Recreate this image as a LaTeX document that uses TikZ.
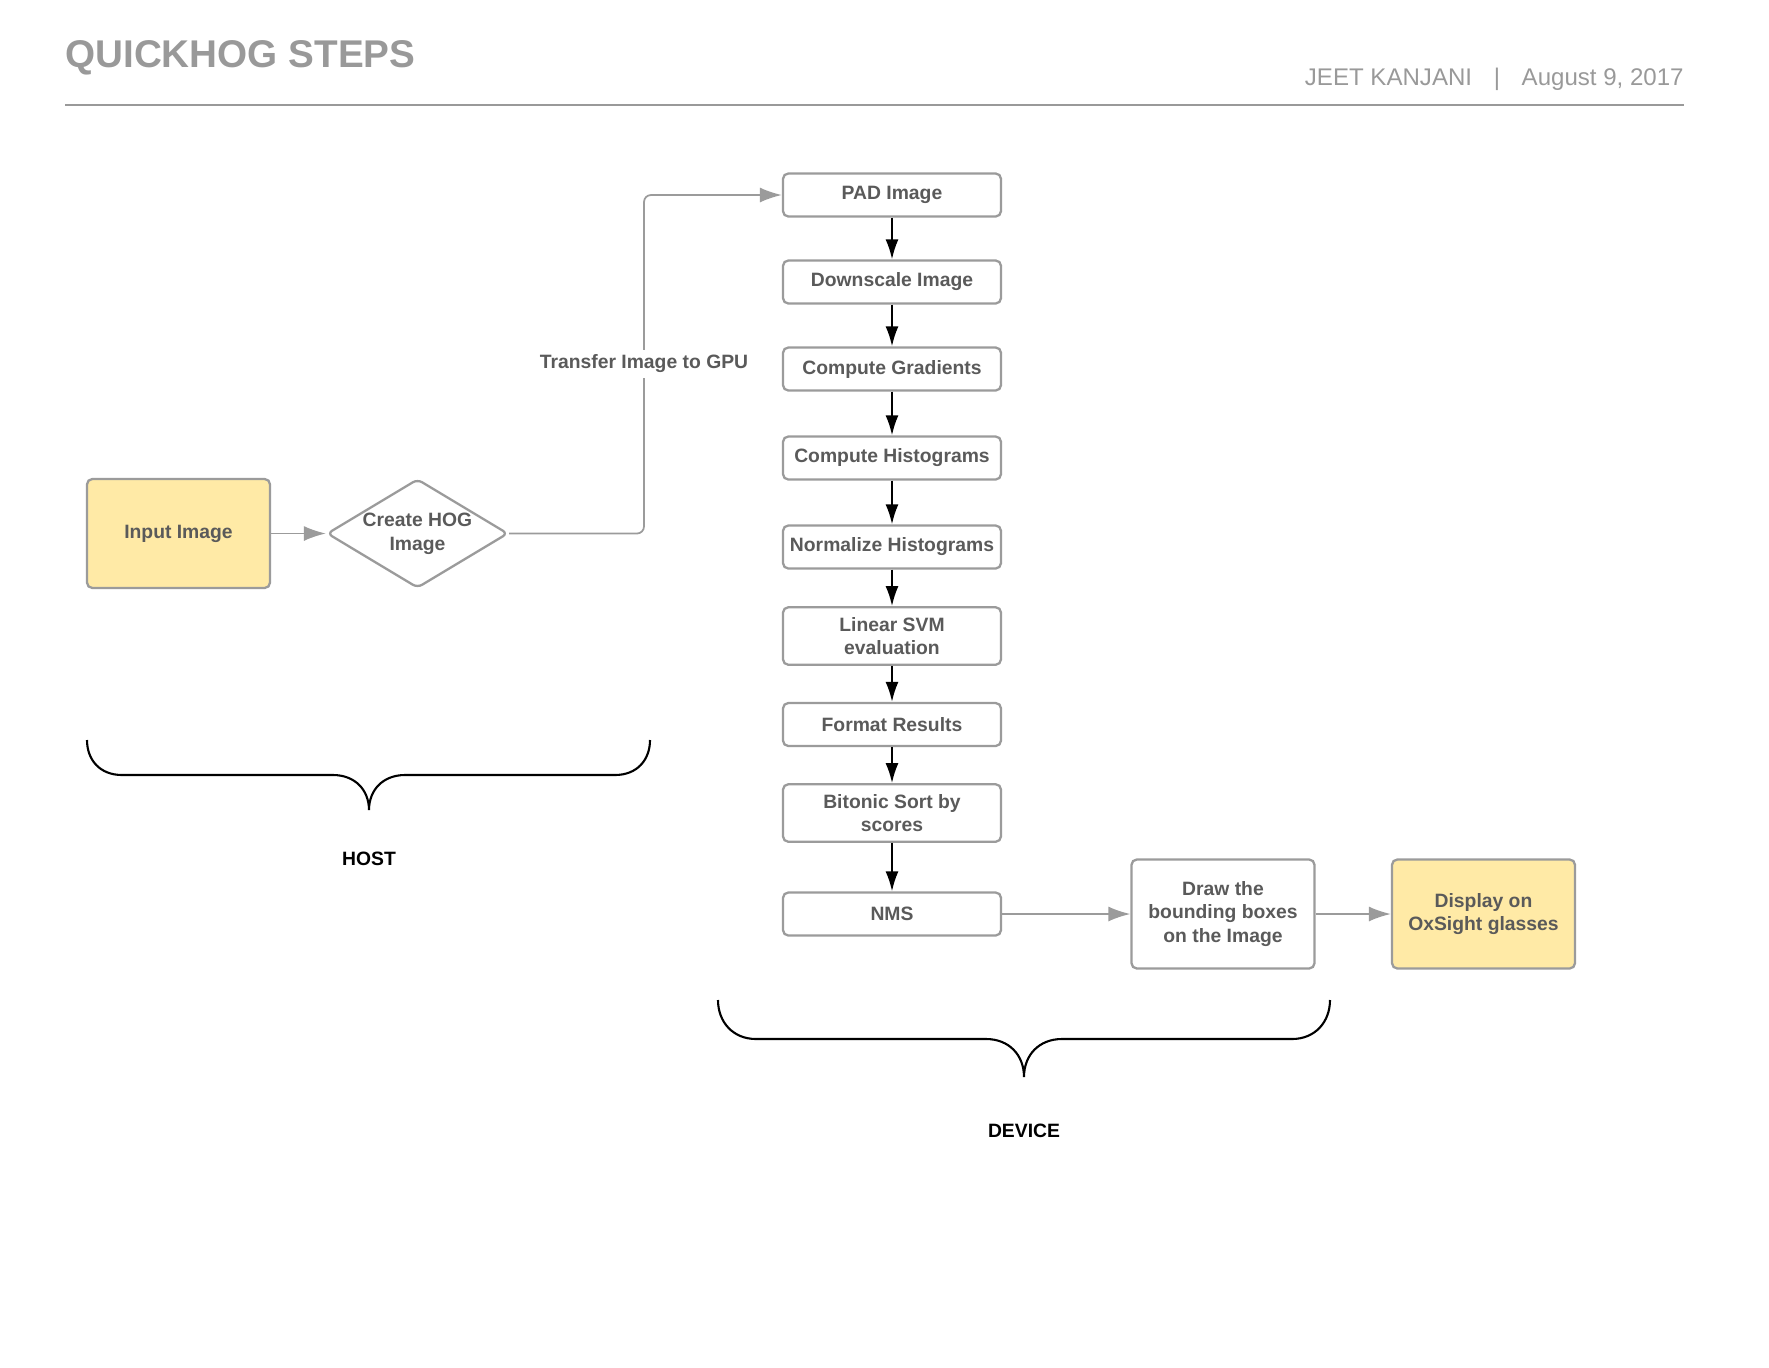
\documentclass[tikz,border=0pt]{standalone}
\usepackage{fontspec}
\setmainfont{Liberation Sans}
\usetikzlibrary{shapes.geometric}
\usetikzlibrary{arrows.meta}

\definecolor{linegray}{HTML}{9B9B9B}
\definecolor{textgray}{HTML}{5A5A5A}
\definecolor{titlegray}{HTML}{999999}
\definecolor{boxyellow}{HTML}{FFEAA6}

\tikzset{
    boxfont/.style={font=\bfseries\fontsize{11}{13.5}\selectfont},
    stepbox/.style={boxfont,draw=linegray,line width=1.3pt,rounded corners=3pt,fill=white,text=textgray,
        align=center,inner sep=2pt,minimum width=4.36cm,minimum height=0.86cm},
    bigbox/.style={stepbox,minimum width=3.66cm,minimum height=2.18cm},
    yellowbox/.style={bigbox,fill=boxyellow},
    hogdiamond/.style={boxfont,diamond,draw=linegray,line width=1.3pt,rounded corners=3pt,text=textgray,
        align=center,inner sep=0pt,aspect=1.66,minimum width=3.62cm,minimum height=2.18cm},
    grayarrow/.style={draw=linegray,line width=1pt,-{Latex[length=0.44cm,width=0.3cm]}},
    blackarrow/.style={black,line width=1.1pt,-{Latex[length=0.4cm,width=0.26cm]}},
    bracket/.style={black,line width=1.2pt},
    sidelabel/.style={boxfont,black,anchor=base,inner sep=0pt}
}

\begin{document}
\begin{tikzpicture}[x=0.02cm,y=-0.02cm]

    \useasboundingbox (0,0) rectangle (1769,1367);

    % header
    \node[font=\bfseries\fontsize{22}{26}\selectfont,text=titlegray,anchor=base west,inner sep=0pt](title)at(65,67){QUICKHOG STEPS};
    \node[font=\fontsize{13.7}{16}\selectfont,text=titlegray,anchor=base east,inner sep=0pt](author)at(1684,85){JEET KANJANI\hspace{0.9em}|\hspace{0.9em}August 9, 2017};
    \draw[titlegray,line width=1.2pt](65,105)--(1684,105);

    % host side
    \node[yellowbox](input)at(178.5,533.5){Input Image};
    \node[hogdiamond](hog)at(417.5,533.5){Create HOG\\Image};

    % device side
    \node[stepbox](pad)at(892,195){PAD Image};
    \node[stepbox](down)at(892,282){Downscale Image};
    \node[stepbox](grad)at(892,369){Compute Gradients};
    \node[stepbox](hist)at(892,458){Compute Histograms};
    \node[stepbox](norm)at(892,547){Normalize Histograms};
    \node[stepbox,minimum height=1.15cm](svm)at(892,636){Linear SVM\\evaluation};
    \node[stepbox](format)at(892,724.5){Format Results};
    \node[stepbox,minimum height=1.15cm](sort)at(892,813){Bitonic Sort by\\scores};
    \node[stepbox](nms)at(892,914){NMS};
    \node[bigbox](boxes)at(1223,914){Draw the\\bounding boxes\\on the Image};
    \node[yellowbox](display)at(1483.5,914){Display on\\OxSight glasses};

    \draw[grayarrow](input)--(hog);
    \coordinate(bend)at(644,364);
    \draw[grayarrow,rounded corners=4pt](hog.east)-|(bend)|-(pad.west);
    \node[boxfont,text=textgray,fill=white,inner sep=3pt](gpu)at(bend){Transfer Image to GPU};

    \draw[blackarrow](pad)--(down);
    \draw[blackarrow](down)--(grad);
    \draw[blackarrow](grad)--(hist);
    \draw[blackarrow](hist)--(norm);
    \draw[blackarrow](norm)--(svm);
    \draw[blackarrow](svm)--(format);
    \draw[blackarrow](format)--(sort);
    \draw[blackarrow](sort)--(nms);
    \draw[grayarrow](nms)--(boxes);
    \draw[grayarrow](boxes)--(display);

    % braces
    \draw[bracket](87,740) .. controls (87,760) and (100,775) .. (122,775)--(333,775)
        .. controls (355,775) and (369,790) .. (369,810)
        .. controls (369,790) and (383,775) .. (405,775)--(615,775)
        .. controls (637,775) and (650,760) .. (650,740);
    \node[sidelabel](host)at(369,865){HOST};

    \draw[bracket](718,1000) .. controls (718,1022) and (733,1039) .. (756,1039)--(986,1039)
        .. controls (1009,1039) and (1024,1055) .. (1024,1077)
        .. controls (1024,1055) and (1039,1039) .. (1062,1039)--(1292,1039)
        .. controls (1315,1039) and (1330,1022) .. (1330,1000);
    \node[sidelabel](device)at(1024,1137){DEVICE};

\end{tikzpicture}
\end{document}
